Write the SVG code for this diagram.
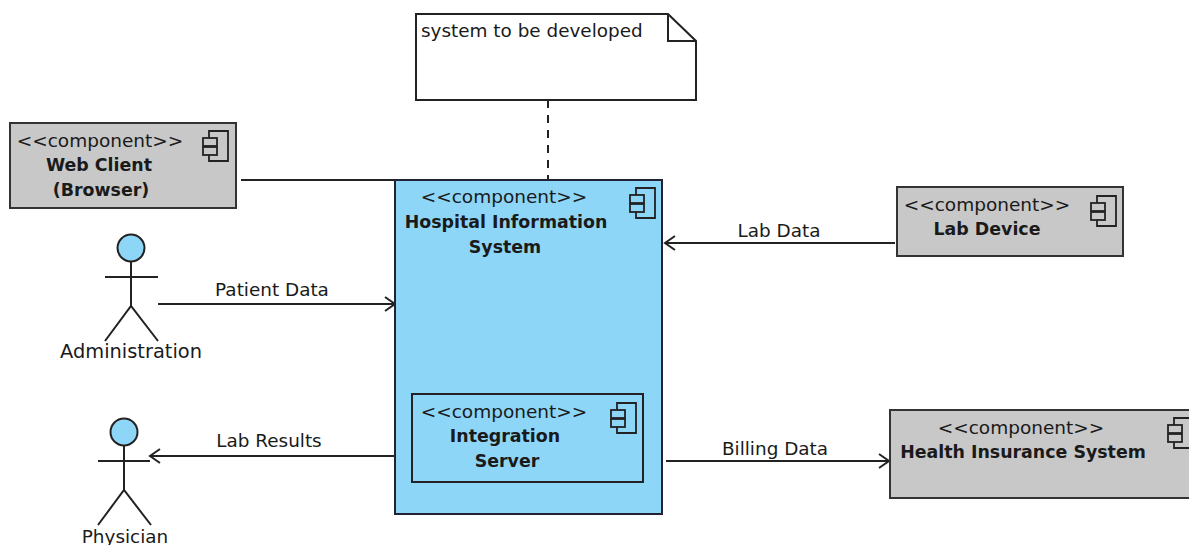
<svg xmlns="http://www.w3.org/2000/svg" width="1189" height="545" viewBox="0 0 1189 545">
<style>
text{font-family:"DejaVu Sans","Liberation Sans",sans-serif;fill:#1a1a1a;font-size:18.4px}
.b{font-weight:bold;font-size:17.4px}
.s{font-size:18.5px}
.m{text-anchor:middle}
.g{fill:#c8c8c8;stroke:#333;stroke-width:2}
.bl{fill:#8ed6f8;stroke:#223;stroke-width:2}
.l{fill:none;stroke:#222;stroke-width:2}
</style>
<defs>
<marker id="a" markerUnits="userSpaceOnUse" markerWidth="14" markerHeight="16" refX="12" refY="8" orient="auto"><path d="M2 1L12 8L2 15" fill="none" stroke="#222" stroke-width="2"/></marker>
<g id="ic" fill="none" stroke="#222" stroke-width="1.8"><path d="M0 7V0H19V30H0V24M0 16V15"/><rect x="-6" y="7" width="14" height="8"/><rect x="-6" y="16" width="14" height="8"/></g>
</defs>
<g id="connectors">
<path class="l" d="M241 180H394"/>
<path class="l" d="M548 100V180" stroke-dasharray="8 7"/>
<path class="l" d="M158 304H395" marker-end="url(#a)"/>
<path class="l" d="M394 456H150" marker-end="url(#a)"/>
<path class="l" d="M895 243H665" marker-end="url(#a)"/>
<path class="l" d="M666 461H889" marker-end="url(#a)"/>
<text x="272" y="296" class="m">Patient Data</text>
<text x="269" y="447" class="m">Lab Results</text>
<text x="779" y="237" class="m">Lab Data</text>
<text x="775" y="455" class="m">Billing Data</text>
</g>
<g id="note">
<path d="M416 14H668L696 41V100H416Z" fill="#fff" stroke="#222" stroke-width="2"/>
<path class="l" d="M668 14V41H696"/>
<text x="421" y="37">system to be developed</text>
</g>
<g id="web-client">
<rect class="g" x="10" y="123" width="226" height="85"/>
<use href="#ic" x="209" y="131"/>
<text x="100" y="147" class="m s">&lt;&lt;component&gt;&gt;</text>
<text x="99" y="171" class="m b">Web Client</text>
<text x="101" y="196" class="m b">(Browser)</text>
</g>
<g id="hospital">
<rect class="bl" x="395" y="180" width="267" height="334"/>
<use href="#ic" x="636" y="188"/>
<text x="504" y="203" class="m s">&lt;&lt;component&gt;&gt;</text>
<text x="506" y="228" class="m b">Hospital Information</text>
<text x="505" y="253" class="m b">System</text>
</g>
<g id="integration">
<rect x="412" y="394" width="231" height="88" fill="none" stroke="#222" stroke-width="2"/>
<use href="#ic" x="617" y="403"/>
<text x="504" y="418" class="m s">&lt;&lt;component&gt;&gt;</text>
<text x="505" y="442" class="m b">Integration</text>
<text x="507" y="467" class="m b">Server</text>
</g>
<g id="lab-device">
<rect class="g" x="897" y="187" width="226" height="69"/>
<use href="#ic" x="1097" y="196"/>
<text x="987" y="211" class="m s">&lt;&lt;component&gt;&gt;</text>
<text x="987" y="235" class="m b">Lab Device</text>
</g>
<g id="insurance">
<rect class="g" x="890" y="410" width="302" height="88"/>
<use href="#ic" x="1174" y="418"/>
<text x="1021" y="434" class="m s">&lt;&lt;component&gt;&gt;</text>
<text x="1023" y="458" class="m b">Health Insurance System</text>
</g>
<g id="administration">
<circle cx="131" cy="248" r="13.5" fill="#8ed6f8" stroke="#222" stroke-width="2"/>
<path class="l" d="M131 262V306M105 277H158M105 341L131 306L158 341"/>
<text x="131" y="358" class="m" style="font-size:19.4px">Administration</text>
</g>
<g id="physician">
<circle cx="124" cy="432" r="13.5" fill="#8ed6f8" stroke="#222" stroke-width="2"/>
<path class="l" d="M124 446V490M98 461H150M98 525L124 490L151 525"/>
<text x="125" y="543" class="m">Physician</text>
</g>
</svg>
